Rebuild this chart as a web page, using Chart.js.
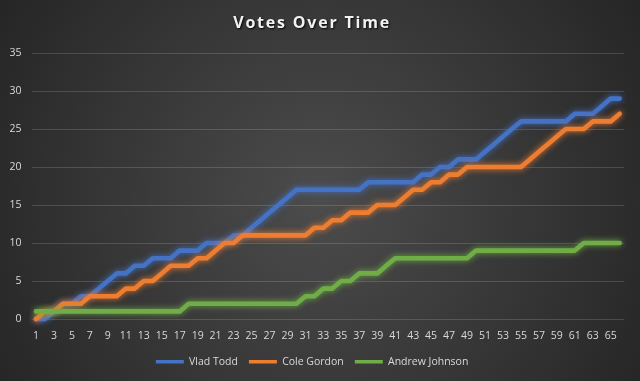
<!DOCTYPE html>
<html><head><meta charset="utf-8">
<script src="https://cdn.jsdelivr.net/npm/chart.js@4/dist/chart.umd.min.js"></script>
<style>html,body{margin:0;padding:0;background:#2a2a2a;overflow:hidden}</style>
</head><body>
<canvas id="c" width="640" height="381"></canvas>
<script>
const categories = ['1','2','3','4','5','6','7','8','9','10','11','12','13','14','15','16','17','18','19','20','21','22','23','24','25','26','27','28','29','30','31','32','33','34','35','36','37','38','39','40','41','42','43','44','45','46','47','48','49','50','51','52','53','54','55','56','57','58','59','60','61','62','63','64','65','66'];
const vladTodd = [0,0,1,2,2,3,3,4,5,6, 6,7,7,8,8,8,9,9,9,10, 10,10,11,11,12,13,14,15,16,17, 17,17,17,17,17,17,17,18,18,18, 18,18,18,19,19,20,20,21,21,21, 22,23,24,25,26,26,26,26,26,26, 27,27,27,28,29,29];
const coleGordon = [0,1,1,2,2,2,3,3,3,3, 4,4,5,5,6,7,7,7,8,8, 9,10,10,11,11,11,11,11,11,11, 11,12,12,13,13,14,14,14,15,15, 15,16,17,17,18,18,19,19,20,20, 20,20,20,20,20,21,22,23,24,25, 25,25,26,26,26,27];
const andrewJohnson = [1,1,1,1,1,1,1,1,1,1, 1,1,1,1,1,1,1,2,2,2, 2,2,2,2,2,2,2,2,2,2, 3,3,4,4,5,5,6,6,6,7, 8,8,8,8,8,8,8,8,8,9, 9,9,9,9,9,9,9,9,9,9, 9,10,10,10,10,10];
const seriesNames = ['Vlad Todd','Cole Gordon','Andrew Johnson'];
const yTicks = [0,5,10,15,20,25,30,35];

const bgPlugin = {
  id: 'bg',
  beforeDraw(chart) {
    const {ctx, width, height} = chart;
    const g = ctx.createRadialGradient(320, 200, 0, 320, 200, 370);
    g.addColorStop(0, '#4c4c4c');
    g.addColorStop(1, '#262626');
    ctx.save(); ctx.fillStyle = g; ctx.fillRect(0, 0, width, height); ctx.restore();
  }
};
const glowPlugin = {
  id: 'glow',
  beforeDatasetDraw(chart, args) {
    const ds = chart.data.datasets[args.index];
    chart.ctx.save();
    chart.ctx.shadowColor = ds.glowColor;
    chart.ctx.shadowBlur = 6;
  },
  afterDatasetDraw(chart) { chart.ctx.restore(); }
};
const titleStylePlugin = {
  id: 'titleStyle',
  afterInit(chart) {
    const tb = chart.titleBlock;
    if (!tb) return;
    const orig = tb.draw.bind(tb);
    tb.draw = function() {
      const ctx = chart.ctx;
      ctx.save();
      ctx.letterSpacing = '1.8px';
      ctx.shadowColor = 'rgba(0,0,0,0.9)';
      ctx.shadowOffsetX = 1; ctx.shadowOffsetY = 1; ctx.shadowBlur = 2;
      orig();
      ctx.restore();
    };
  }
};

const colors = ['#4472C4', '#ED7D31', '#70AD47'];
const glows = ['rgba(68,114,196,1)', 'rgba(237,125,49,1)', 'rgba(112,173,71,1)'];
const values = [vladTodd, coleGordon, andrewJohnson];

new Chart(document.getElementById('c'), {
  type: 'line',
  data: {
    labels: categories,
    datasets: values.map((v, i) => ({
      label: seriesNames[i],
      data: v,
      borderColor: colors[i],
      backgroundColor: colors[i],
      glowColor: glows[i],
      borderWidth: 4.6,
      pointRadius: 0,
      pointHoverRadius: 0,
      tension: 0,
      fill: false,
      clip: false,
      borderJoinStyle: 'round',
      borderCapStyle: 'round',
      order: 3 - i
    }))
  },
  options: {
    responsive: false,
    devicePixelRatio: 1,
    animation: false,
    events: [],
    layout: { padding: { top: 0, bottom: 4, left: 0, right: 15.8 } },
    plugins: {
      title: {
        display: true,
        text: 'Votes Over Time',
        color: '#f2f2f2',
        font: { family: 'Open Sans', size: 16, weight: 'bold' },
        padding: { top: 14, bottom: 19.8 }
      },
      legend: {
        position: 'bottom',
        labels: {
          color: '#d9d9d9',
          font: { family: 'Open Sans', size: 10.5 },
          boxWidth: 28,
          boxHeight: 3.5,
          padding: 11,
          sort: (a, b) => a.datasetIndex - b.datasetIndex,
          generateLabels: (chart) => Chart.defaults.plugins.legend.labels.generateLabels(chart).map(l => Object.assign(l, { lineWidth: 0 }))
        }
      },
      tooltip: { enabled: false }
    },
    scales: {
      x: {
        offset: true,
        grid: { display: false },
        border: { display: false },
        ticks: {
          color: '#d9d9d9',
          font: { family: 'Open Sans', size: 10.5 },
          maxRotation: 0,
          autoSkip: false,
          padding: 3,
          callback: (v, i) => (i % 2 === 0 ? categories[i] : '')
        },
        afterFit: s => { s.height = 26.5; }
      },
      y: {
        min: 0,
        max: 35,
        afterBuildTicks: s => { s.ticks = yTicks.map(v => ({ value: v })); },
        grid: { color: 'rgba(255,255,255,0.15)', drawTicks: false },
        border: { display: false },
        ticks: {
          color: '#d9d9d9',
          font: { family: 'Open Sans', size: 10.5 },
          padding: 10
        },
        afterFit: s => { s.width = 31.5; }
      }
    }
  },
  plugins: [bgPlugin, glowPlugin, titleStylePlugin]
});
</script>
</body></html>
